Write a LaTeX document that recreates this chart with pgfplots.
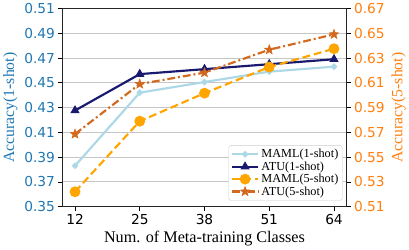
\documentclass[border=0pt]{standalone}
\usepackage{pgfplots}
\pgfplotsset{compat=1.18}
\usepackage{fontspec}
\setmainfont{Liberation Serif}
\newfontfamily\dejavu{DejaVu Sans}
\definecolor{lblue}{HTML}{1F77B4}
\definecolor{lorange}{HTML}{FF7F0E}
\definecolor{mamlone}{HTML}{ADD8E6}
\definecolor{atuone}{HTML}{191970}
\definecolor{mamlfive}{HTML}{FFA500}
\definecolor{atufive}{HTML}{D2691E}
\pgfdeclareplotmark{fstar}{%
  \pgfpathmoveto{\pgfpointpolar{90}{\pgfplotmarksize}}%
  \pgfpathlineto{\pgfpointpolar{126}{0.42\pgfplotmarksize}}%
  \pgfpathlineto{\pgfpointpolar{162}{\pgfplotmarksize}}%
  \pgfpathlineto{\pgfpointpolar{198}{0.42\pgfplotmarksize}}%
  \pgfpathlineto{\pgfpointpolar{234}{\pgfplotmarksize}}%
  \pgfpathlineto{\pgfpointpolar{270}{0.42\pgfplotmarksize}}%
  \pgfpathlineto{\pgfpointpolar{306}{\pgfplotmarksize}}%
  \pgfpathlineto{\pgfpointpolar{342}{0.42\pgfplotmarksize}}%
  \pgfpathlineto{\pgfpointpolar{18}{\pgfplotmarksize}}%
  \pgfpathlineto{\pgfpointpolar{54}{0.42\pgfplotmarksize}}%
  \pgfpathclose
  \pgfusepathqfillstroke}
\begin{document}
\begin{tikzpicture}
\pgfplotsset{
  common/.style={
    scale only axis, width=290pt, height=202pt,
    xmin=-0.197, xmax=4.197,
    /pgf/number format/assume math mode=true,
    tick align=outside, major tick length=4pt,
    tick style={black, line width=0.6pt},
    axis line style={line width=0.8pt, black!85},
  }
}
\begin{axis}[common,
  ymin=0.35, ymax=0.51,
  ytick={0.35,0.37,...,0.51},
  yticklabel style={font=\dejavu\fontsize{14}{14}\selectfont, text=lblue, /pgf/number format/.cd, fixed, fixed zerofill, precision=2},
  xtick={0,1,2,3,4}, xticklabels={12,25,38,51,64},
  xticklabel style={font=\dejavu\fontsize{14}{14}\selectfont},
  ytick pos=left, xtick pos=bottom,
  ymajorgrids, grid style={gray!45, line width=0.9pt},
  ylabel={Accuracy(1-shot)}, ylabel style={font=\fontsize{16}{16}\selectfont, text=lblue},
  xlabel={Num. of Meta-training Classes}, xlabel style={font=\fontsize{16.5}{16.5}\selectfont},
]
\addplot[color=mamlone, line width=2.2pt, mark=*, mark size=2pt] coordinates {
 (0,0.383) (1,0.442) (2,0.4506) (3,0.459) (4,0.463)};
\addplot[color=atuone, line width=2.2pt, mark=triangle*, mark size=4.5pt, mark options={line width=1pt}] coordinates {
 (0,0.4276) (1,0.457) (2,0.461) (3,0.465) (4,0.469)};
\end{axis}
\begin{axis}[common,
  ymin=0.51, ymax=0.67,
  ytick={0.51,0.53,...,0.67},
  axis y line*=right, axis x line=none,
  yticklabel style={font=\dejavu\fontsize{14}{14}\selectfont, text=lorange, /pgf/number format/.cd, fixed, fixed zerofill, precision=2},
  ylabel={Accuracy(5-shot)}, ylabel style={font=\fontsize{16}{16}\selectfont, text=lorange},
  legend style={at={(0.985,0.03)}, anchor=south east, font=\fontsize{12.5}{13}\selectfont,
    draw=black!20, rounded corners=2pt, row sep=-1.5pt, inner sep=2pt},
  legend cell align=left,
  legend image code/.code={
    \draw[#1] (0cm,0cm) -- (0.95cm,0cm);
    \draw[#1, solid] plot coordinates {(0.475cm,0cm)};},
]
\addlegendimage{color=mamlone, line width=2.2pt, mark=*, mark size=2pt}
\addlegendentry{MAML(1-shot)}
\addlegendimage{color=atuone, line width=2.2pt, mark=triangle*, mark size=4.5pt, mark options={line width=1pt}}
\addlegendentry{ATU(1-shot)}
\addplot[color=mamlfive, line width=2.2pt, dash pattern=on 8pt off 4pt, mark=*, mark size=5pt, mark options={solid, line width=1pt}] coordinates {
 (0,0.522) (1,0.579) (2,0.6016) (3,0.6227) (4,0.6375)};
\addlegendentry{MAML(5-shot)}
\addplot[color=atufive, line width=2.2pt, dash pattern=on 8pt off 3pt on 2pt off 3pt, mark=fstar, mark size=5pt, mark options={solid, line width=0.6pt}] coordinates {
 (0,0.5686) (1,0.609) (2,0.6182) (3,0.6367) (4,0.6491)};
\addlegendentry{ATU(5-shot)}
\end{axis}
\end{tikzpicture}
\end{document}
